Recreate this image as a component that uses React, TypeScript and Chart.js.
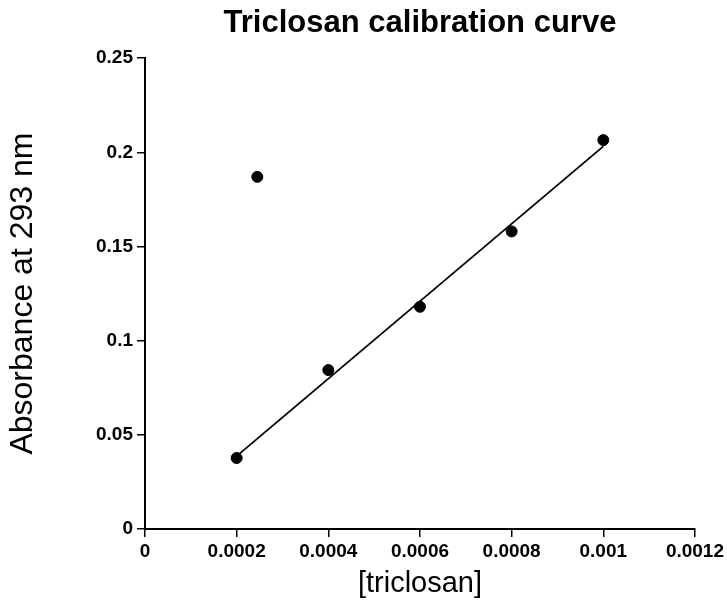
import React, { useEffect, useRef } from "react";
import { Chart, registerables } from "chart.js";

Chart.register(...registerables);

const concentrations = [0.0002, 0.0004, 0.0006, 0.0008, 0.001];
const absorbances = [0.0377, 0.0844, 0.118, 0.158, 0.2065];
const outlierX = [0.000245];
const outlierY = [0.187];
const fitX = [0.0002, 0.001];
const fitY = [0.0387, 0.2032];

const FONT = "'Liberation Sans', Arial, Helvetica, sans-serif";

export default function App() {
  const ref = useRef<HTMLCanvasElement | null>(null);
  useEffect(() => {
    if (!ref.current) return;
    const chart = new Chart(ref.current, {
      type: "scatter",
      data: {
        datasets: [
          {
            label: "Standards",
            data: concentrations.map((x, i) => ({ x, y: absorbances[i] })),
            backgroundColor: "#000",
            borderColor: "#000",
            pointRadius: 5.5,
            pointHoverRadius: 5.5,
          },
          {
            label: "Outlier",
            data: outlierX.map((x, i) => ({ x, y: outlierY[i] })),
            backgroundColor: "#000",
            borderColor: "#000",
            pointRadius: 5.5,
          },
          {
            label: "Fit",
            data: fitX.map((x, i) => ({ x, y: fitY[i] })),
            showLine: true,
            borderColor: "#000",
            borderWidth: 1.8,
            pointRadius: 0,
            fill: false,
          },
        ],
      },
      options: {
        animation: false,
        responsive: false,
        maintainAspectRatio: false,
        layout: { padding: { left: 0, right: 32, top: 0, bottom: 0 } },
        plugins: {
          legend: { display: false },
          tooltip: { enabled: false },
          title: {
            display: true,
            fullSize: false,
            text: "Triclosan calibration curve",
            color: "#000",
            font: { family: FONT, size: 31, weight: "bold", lineHeight: 1.2 },
            padding: { top: 5, bottom: 16 },
          },
        },
        scales: {
          x: {
            type: "linear",
            min: 0,
            max: 0.0012,
            afterFit: (s: any) => {
              s.height = 81;
            },
            ticks: {
              stepSize: 0.0002,
              color: "#000",
              padding: 3,
              maxRotation: 0,
              font: { family: FONT, size: 19, weight: "bold" },
              callback: (v: any) => Number(Number(v).toPrecision(6)).toString(),
            },
            grid: {
              drawOnChartArea: false,
              drawTicks: true,
              tickLength: 8,
              color: "#000",
              lineWidth: 1.5,
            },
            border: { display: true, color: "#000", width: 2 },
            title: {
              display: true,
              text: "[triclosan]",
              color: "#000",
              font: { family: FONT, size: 29, lineHeight: 1.2 },
              padding: { top: 0, bottom: 9 },
            },
          },
          y: {
            type: "linear",
            min: 0,
            max: 0.25,
            afterFit: (s: any) => {
              s.width = 145;
            },
            ticks: {
              stepSize: 0.05,
              color: "#000",
              padding: 4,
              font: { family: FONT, size: 19, weight: "bold" },
              callback: (v: any) => Number(Number(v).toPrecision(6)).toString(),
            },
            grid: {
              drawOnChartArea: false,
              drawTicks: true,
              tickLength: 8,
              color: "#000",
              lineWidth: 1.5,
            },
            border: { display: true, color: "#000", width: 2 },
            title: {
              display: true,
              text: "Absorbance at 293 nm",
              color: "#000",
              font: { family: FONT, size: 32, lineHeight: 1.2 },
              padding: { top: 4, bottom: 0 },
            },
          },
        },
      },
    });
    return () => chart.destroy();
  }, []);
  return (
    <div style={{ position: "absolute", left: 0, top: 0, width: 727, height: 610, background: "#fff" }}>
      <canvas ref={ref} width={727} height={610} style={{ width: 727, height: 610 }} />
    </div>
  );
}
